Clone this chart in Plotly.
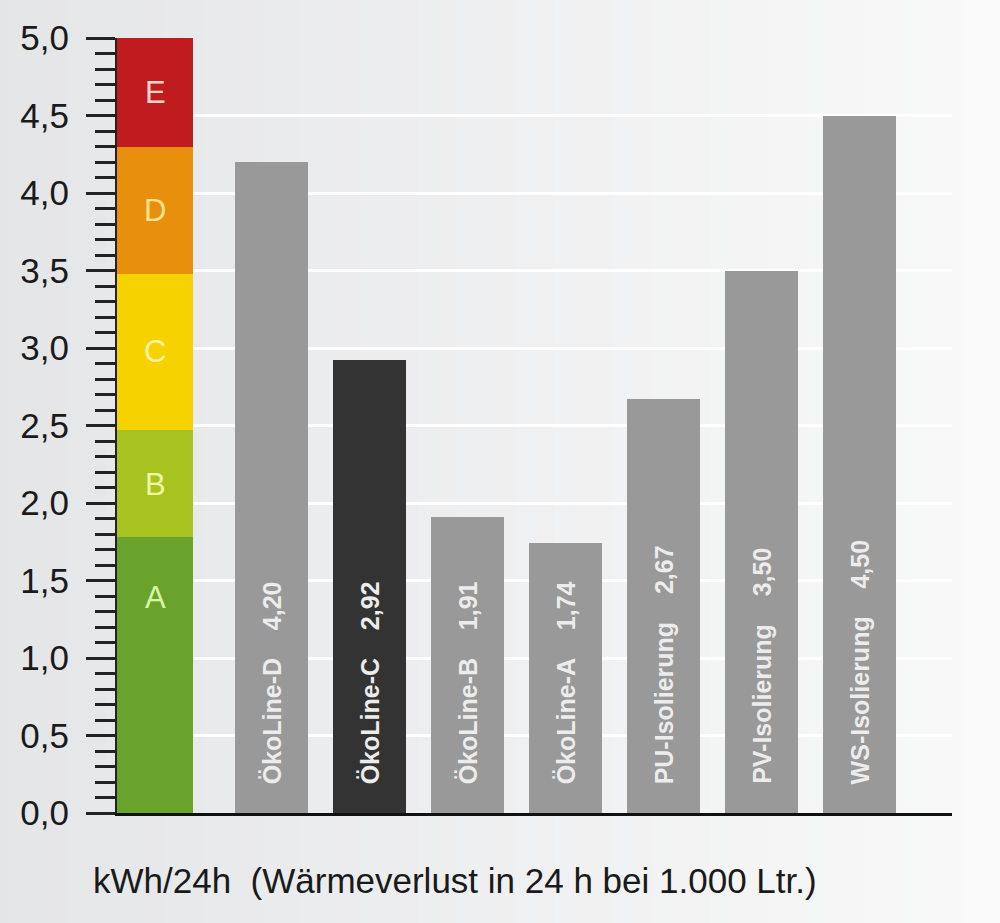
import plotly.graph_objects as go

# ---- data ----
class_letters = ["A", "B", "C", "D", "E"]
class_bounds = [0.0, 1.78, 2.47, 3.48, 4.30, 5.00]
class_label_y = [1.39, 2.12, 2.98, 3.89, 4.65]
class_colors = ["#69a32b", "#a8c31f", "#f5d200", "#e8900d", "#c01b1e"]
class_text_colors = ["#d6f7a6", "#f0f6a4", "#fff3a0", "#ffe48c", "#f8d6cc"]

products = ["ÖkoLine-D", "ÖkoLine-C", "ÖkoLine-B", "ÖkoLine-A",
            "PU-Isolierung", "PV-Isolierung", "WS-Isolierung"]
values = [4.20, 2.92, 1.91, 1.74, 2.67, 3.50, 4.50]
value_labels = ["4,20", "2,92", "1,91", "1,74", "2,67", "3,50", "4,50"]
bar_colors = ["#999999", "#333333", "#999999", "#999999", "#999999", "#999999", "#999999"]

y_ticks = [0.0, 0.5, 1.0, 1.5, 2.0, 2.5, 3.0, 3.5, 4.0, 4.5, 5.0]
y_ticktext = ["0,0", "0,5", "1,0", "1,5", "2,0", "2,5", "3,0", "3,5", "4,0", "4,5", "5,0"]
footer = "kWh/24h  (Wärmeverlust in 24 h bei 1.000 Ltr.)"

# ---- layout geometry ----
scale_x = 0.389
first_x = 1.58
prod_x = [first_x + i for i in range(len(products))]

fig = go.Figure()

# background gradient
n = 60
for i in range(n):
    t = i / (n - 1)
    c0 = (228, 229, 231)
    c1 = (252, 252, 252)
    col = tuple(int(c0[k] + (c1[k] - c0[k]) * t) for k in range(3))
    fig.add_shape(type="rect", xref="paper", yref="paper",
                  x0=-0.2 + 1.4 * i / n, x1=-0.2 + 1.4 * (i + 1) / n + 0.001,
                  y0=-0.2, y1=1.1, line=dict(width=0),
                  fillcolor="rgb(%d,%d,%d)" % col, layer="below")

# class scale
for i, letter in enumerate(class_letters):
    lo, hi = class_bounds[i], class_bounds[i + 1]
    fig.add_trace(go.Bar(x=[scale_x], y=[hi - lo], base=[lo], width=0.777,
                         marker=dict(color=class_colors[i], line=dict(width=0)),
                         showlegend=False, hoverinfo="skip"))
    fig.add_annotation(x=scale_x, y=class_label_y[i], text=letter, showarrow=False,
                       font=dict(family="Liberation Sans, Arial", size=31,
                                 color=class_text_colors[i]))

# product bars
fig.add_trace(go.Bar(x=prod_x, y=values, width=0.746,
                     marker=dict(color=bar_colors, line=dict(width=0)),
                     showlegend=False, hoverinfo="skip"))

for xp, name, lab in zip(prod_x, products, value_labels):
    fig.add_annotation(x=xp, y=0, yanchor="bottom", xanchor="center", yshift=27,
                       text="<b>" + name + "\u00a0\u00a0\u00a0\u00a0" + lab + "</b>",
                       textangle=-90, showarrow=False,
                       font=dict(family="Liberation Sans, Arial", size=25, color="#ececec"))

fig.add_annotation(xref="paper", yref="paper", x=-0.031, y=-0.087, xanchor="left",
                   yanchor="middle", text=footer, showarrow=False,
                   font=dict(family="Liberation Sans, Arial", size=35, color="#1a1a1a"))

fig.update_layout(
    width=1000, height=923,
    margin=dict(l=117, r=48, t=38, b=110),
    paper_bgcolor="white", plot_bgcolor="rgba(0,0,0,0)",
    barmode="overlay", bargap=0,
    xaxis=dict(range=[0, 8.52], showgrid=False, zeroline=False,
               showticklabels=False, ticks="", showline=True,
               linecolor="#111111", linewidth=3, fixedrange=True),
    yaxis=dict(range=[0, 5.0], tickvals=y_ticks, ticktext=y_ticktext,
               ticks="outside", ticklen=29, tickwidth=3, tickcolor="#222222",
               showline=True, linecolor="#222222", linewidth=2,
               showgrid=True, gridcolor="#ffffff", gridwidth=3,
               zeroline=False, ticklabelstandoff=10,
               tickfont=dict(family="Liberation Sans, Arial", size=35, color="#1a1a1a"),
               minor=dict(dtick=0.1, tick0=0, ticks="outside", ticklen=20,
                          tickwidth=3, tickcolor="#222222", showgrid=False)),
)

fig.write_html("out.html", config={"displayModeBar": False},
               post_script="document.body.style.margin='0';document.body.style.overflow='hidden';")
